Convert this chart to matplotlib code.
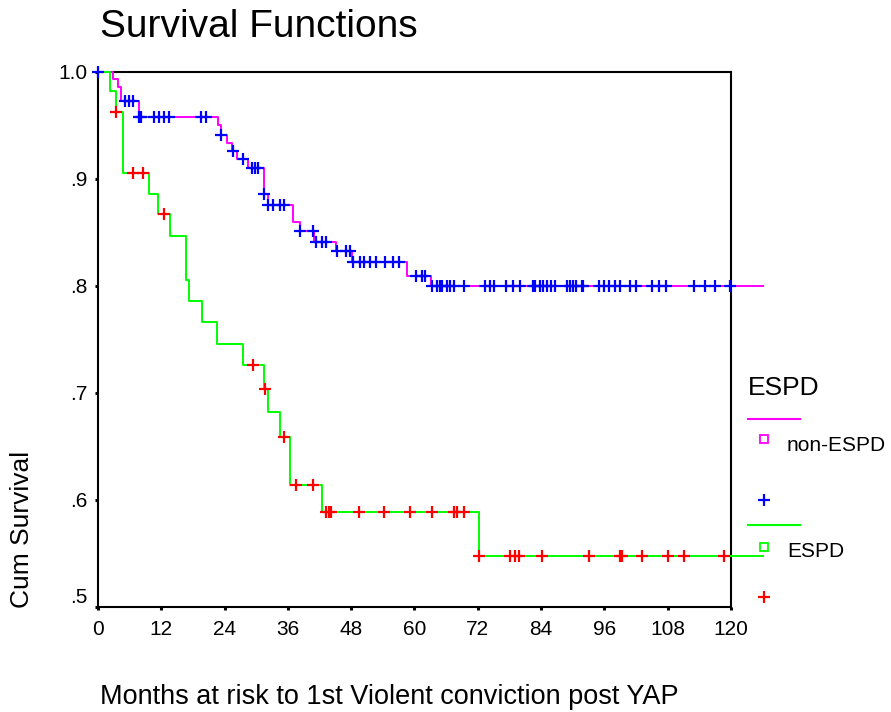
import numpy as np
import matplotlib
matplotlib.use('Agg')
import matplotlib.pyplot as plt
from matplotlib.lines import Line2D

plt.rcParams['font.family'] = ['Liberation Sans', 'DejaVu Sans']

# ---- data (months, cumulative survival) ----
# non-ESPD group: step times and survival after each step
non_times = [0, 2.8, 3.8, 4.4, 7.7, 22.7, 23.3, 24.5, 25.4, 26.4, 28.5, 31.4, 32.2,
             37.0, 38.2, 41.0, 45.1, 48.1, 58.5, 63.2]
non_surv = [1.0, 0.993, 0.986, 0.973, 0.958, 0.950, 0.941, 0.934, 0.926, 0.919, 0.910,
            0.886, 0.876, 0.860, 0.851, 0.841, 0.833, 0.822, 0.809, 0.800]
non_censored = [0, 5.2, 5.9, 6.6, 7.8, 8.2, 10.7, 11.5, 12.5, 13.4, 19.6, 20.5,
                23.4, 25.5, 27.4, 29.1, 29.7, 30.3, 31.5, 32.3, 33.2, 34.5, 35.3,
                38.3, 40.7, 41.3, 42.4, 43.3, 45.4, 47.1, 47.8,
                48.4, 49.7, 50.5, 51.6, 52.7, 54.4, 56.0, 57.1, 60.3, 61.4, 62.0,
                63.4, 64.2, 64.8, 65.3, 66.1, 66.7, 67.5, 69.3, 73.4, 74.3, 75.1,
                77.3, 78.7, 80.0, 82.4, 82.8, 83.7, 84.4, 85.1, 85.8, 86.6,
                88.9, 89.5, 90.0, 90.7, 91.7, 92.0, 95.0, 96.0, 96.9, 98.0, 99.0,
                100.9, 102.0, 105.0, 106.3, 107.6, 112.9, 115.1, 117.0, 119.8]

# ESPD group
espd_times = [0, 2.3, 3.4, 4.7, 9.7, 11.4, 13.6, 16.7, 17.3, 19.7, 22.6, 27.4,
              31.4, 32.3, 34.5, 36.4, 42.4, 72.2]
espd_surv = [1.0, 0.982, 0.963, 0.906, 0.886, 0.867, 0.847, 0.806, 0.786, 0.766,
             0.746, 0.726, 0.704, 0.682, 0.659, 0.614, 0.589, 0.548]
espd_censored = [3.5, 6.6, 8.5, 12.5, 29.3, 31.6, 35.3, 37.5, 40.7, 43.2, 43.7, 44.1,
                 49.5, 54.3, 59.1, 63.3, 67.5, 68.1, 69.3, 72.3, 78.2, 79.0, 79.8,
                 84.2, 93.1, 99.0, 99.3, 103.2, 108.0, 111.0, 118.7]

end_time = 126
x_ticks = [0, 12, 24, 36, 48, 60, 72, 84, 96, 108, 120]
y_ticks = [0.5, 0.6, 0.7, 0.8, 0.9, 1.0]
y_tick_labels = ['.5', '.6', '.7', '.8', '.9', '1.0']


def step_value(times, surv, t):
    idx = np.searchsorted(times, t, side='right') - 1
    return np.asarray(surv)[idx]


fig = plt.figure(figsize=(8.91, 7.12), dpi=100)
ax = fig.add_axes([0.110, 0.1475, 0.7104, 0.7514])

groups = [
    (non_times, non_surv, non_censored, '#ff00ff', '#0000ff'),
    (espd_times, espd_surv, espd_censored, '#00ff00', '#ff0000'),
]
for times, surv, cens, lcol, mcol in groups:
    tx = list(times) + [end_time]
    sy = list(surv) + [surv[-1]]
    ax.step(tx, sy, where='post', color=lcol, lw=1.4, clip_on=False, zorder=3)
    cens = np.array(cens)
    ax.plot(cens, step_value(times, surv, cens), ls='none', marker='+', ms=9,
            mew=1.6, color=mcol, clip_on=False, zorder=4)

ax.set_xlim(0, 120)
ax.set_ylim(0.5, 1.0)
ax.set_xticks(x_ticks)
ax.set_xticklabels([str(v) for v in x_ticks])
ax.set_yticks(y_ticks)
ax.set_yticklabels(y_tick_labels)
for lab in ax.get_xticklabels():
    lab.set_family(['Liberation Sans Narrow', 'Liberation Sans'])
ax.tick_params(axis='both', direction='out', length=2.5, width=2.2, labelsize=15,
               color='black')
ax.tick_params(axis='x', pad=7)
ax.tick_params(axis='y', pad=5)
# the bottom label sits a little higher in the original
ax.get_yticklabels()[0].set_verticalalignment('bottom')
for sp in ax.spines.values():
    sp.set_linewidth(1.5)
    sp.set_color('black')

# titles / labels placed like the original output
fig.text(0.112, 0.962, 'Survival Functions', fontsize=28, ha='left', va='center')
fig.text(0.025, 0.256, 'Cum Survival', fontsize=19, rotation=90, ha='center', va='center')
fig.text(0.112, 0.021, 'Months at risk to 1st Violent conviction post YAP', fontsize=19.5,
         ha='left', va='center')

# legend, drawn by hand to mimic the layout
fig.text(0.8395, 0.455, 'ESPD', fontsize=19, ha='left', va='center')
legend_rows = [
    ('non-ESPD', '#ff00ff', '#0000ff', 0.4115, 0.3834, 0.3736, 0.2978),
    ('ESPD', '#00ff00', '#ff0000', 0.2626, 0.2317, 0.2261, 0.1615),
]
for label, lcol, mcol, yline, ysq, ytxt, ycross in legend_rows:
    fig.add_artist(Line2D([0.8395, 0.8979], [yline, yline], color=lcol, lw=1.5,
                          transform=fig.transFigure))
    fig.add_artist(Line2D([0.8575], [ysq], marker='s', ms=5.5, mfc='white', mec=lcol,
                          mew=1.3, ls='none', transform=fig.transFigure))
    fig.text(0.8833, ytxt, label, fontsize=15, ha='left', va='center')
    fig.add_artist(Line2D([0.8575], [ycross], marker='+', ms=9, mew=1.6, color=mcol,
                          ls='none', transform=fig.transFigure))

fig.savefig('out.png', dpi=100)
